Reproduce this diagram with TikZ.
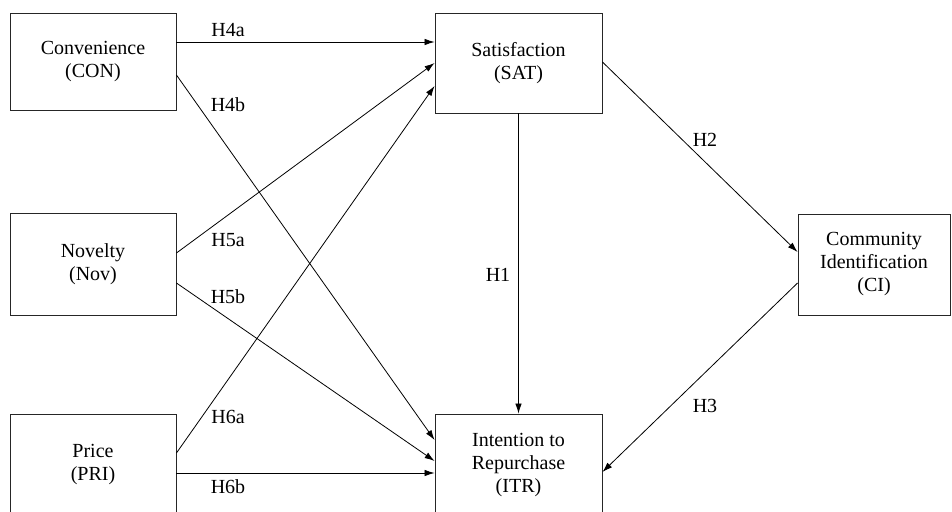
\documentclass[tikz,border=0pt]{standalone}
\usepackage{fontspec}
\setmainfont{Liberation Serif}
\usetikzlibrary{arrows.meta}
\begin{document}
\begin{tikzpicture}[x=1pt,y=-1pt,
  box/.style={draw=black!85, line width=0.9pt, rectangle, inner sep=0pt, align=center,
    font=\fontsize{20}{23}\selectfont},
  hyp/.style={font=\fontsize{20}{23}\selectfont, inner sep=0pt},
  arr/.style={line width=0.8pt, -{Latex[length=10pt,width=6.5pt]}}]
\useasboundingbox (0,0) rectangle (952,511);
\clip (0,0) rectangle (952,511);
\fill[white] (0,0) rectangle (952,511);
% boxes
\node[box, minimum width=166pt, minimum height=97pt]  (con) at (93,61.5) {Convenience\\(CON)};
\node[box, minimum width=166pt, minimum height=102pt] (nov) at (93,264) {Novelty\\(Nov)};
\node[box, minimum width=166pt, minimum height=102pt] (pri) at (93,465) {Price\\(PRI)};
\node[box, minimum width=167pt, minimum height=100pt] (sat) at (518.5,63) {Satisfaction\\(SAT)};
\node[box, minimum width=167pt, minimum height=102pt] (itr) at (518.5,465) {Intention to\\Repurchase\\(ITR)};
\node[box, minimum width=152pt, minimum height=101pt] (ci) at (874,264.5) {Community\\Identification\\(CI)};
% connectors
\draw[arr] (con.east |- 0,42)  -- (sat.west |- 0,42);
\draw[arr] (con.east |- 0,75)  -- (itr.west |- 0,440);
\draw[arr] (nov.east |- 0,253) -- (sat.west |- 0,63);
\draw[arr] (nov.east |- 0,283) -- (itr.west |- 0,461);
\draw[arr] (pri.east |- 0,453) -- (sat.west |- 0,86);
\draw[arr] (pri.east |- 0,473) -- (itr.west |- 0,473);
\draw[arr] (sat.south) -- (itr.north);
\draw[arr] (sat.east |- 0,62)  -- (ci.west |- 0,252);
\draw[arr] (ci.west |- 0,283)  -- (itr.east |- 0,472);
% labels
\node[hyp] (l4a) at (228,30)  {H4a};
\node[hyp] (l4b) at (228,105) {H4b};
\node[hyp] (l5a) at (228,240) {H5a};
\node[hyp] (l5b) at (228,297) {H5b};
\node[hyp] (l6a) at (228,417) {H6a};
\node[hyp] (l6b) at (228,487) {H6b};
\node[hyp] (l1)  at (498,275) {H1};
\node[hyp] (l2)  at (705,140) {H2};
\node[hyp] (l3)  at (705,406) {H3};
\end{tikzpicture}
\end{document}
